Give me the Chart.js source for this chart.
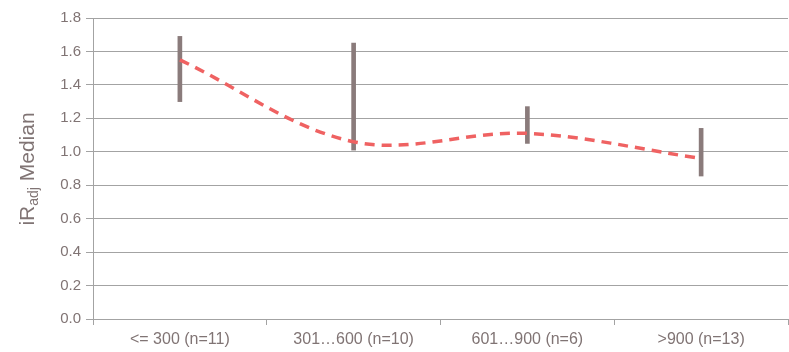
<!DOCTYPE html>
<html>
<head>
<meta charset="utf-8">
<script src="https://cdn.jsdelivr.net/npm/chart.js@4"></script>
<style>
  html, body { margin: 0; padding: 0; background: #fff; }
  #wrap { width: 789px; height: 352px; }
</style>
</head>
<body>
<div id="wrap"><canvas id="my-chart" width="789" height="352"></canvas></div>
<script>
'use strict';

let categories = ['<= 300 (n=11)', '301…600 (n=10)', '601…900 (n=6)', '>900 (n=13)'];
let medians = [1.55, 1.06, 1.11, 0.96];
let rangeLow = [1.30, 1.01, 1.05, 0.855];
let rangeHigh = [1.69, 1.65, 1.27, 1.14];
let yTicks = [0, 0.2, 0.4, 0.6, 0.8, 1.0, 1.2, 1.4, 1.6, 1.8];

let textColor = '#807474';
let gridColor = '#a3a3a3';

let ranges = [];
for (let i = 0; i < categories.length; i++) {
  ranges.push([rangeLow[i], rangeHigh[i]]);
}

// y title with subscript "adj"
let yTitlePlugin = {
  id: 'yTitle',
  afterDraw(chart) {
    let ctx = chart.ctx;
    ctx.save();
    ctx.translate(28, 169);
    ctx.rotate(-Math.PI / 2);
    ctx.fillStyle = textColor;
    ctx.textBaseline = 'middle';
    let big = '21px "Liberation Sans", Arial, sans-serif';
    let small = '14px "Liberation Sans", Arial, sans-serif';
    ctx.font = big;
    let w1 = ctx.measureText('iR').width;
    let w3 = ctx.measureText(' Median').width;
    ctx.font = small;
    let w2 = ctx.measureText('adj').width;
    let x = -(w1 + w2 + w3) / 2;
    ctx.font = big;
    ctx.fillText('iR', x, 0);
    ctx.font = small;
    ctx.fillText('adj', x + w1, 6);
    ctx.font = big;
    ctx.fillText(' Median', x + w1 + w2, 0);
    ctx.restore();
  }
};

let canvasElem = document.getElementById('my-chart');

new Chart(canvasElem, {
  type: 'bar',
  data: {
    labels: categories,
    datasets: [{
      type: 'line',
      data: medians,
      borderColor: '#ef6262',
      borderWidth: 3.5,
      borderDash: [10, 7],
      pointRadius: 0,
      tension: 0.35,
      fill: false,
      order: 0
    }, {
      type: 'bar',
      data: ranges,
      backgroundColor: '#8a7b7b',
      barThickness: 4,
      order: 1
    }]
  },
  options: {
    responsive: false,
    animation: false,
    layout: { padding: { top: 18, right: 1, left: 0, bottom: 0 } },
    plugins: {
      legend: { display: false },
      tooltip: { enabled: false }
    },
    scales: {
      x: {
        offset: true,
        grid: {
          offset: true,
          drawOnChartArea: false,
          color: gridColor,
          tickLength: 6
        },
        border: { color: gridColor },
        ticks: {
          color: textColor,
          padding: 5,
          font: { family: '"Liberation Sans", Arial, sans-serif', size: 16 }
        },
        afterFit(scale) { scale.height = 33; }
      },
      y: {
        min: 0,
        max: 1.8,
        afterBuildTicks(scale) {
          scale.ticks = yTicks.map(v => ({ value: v }));
        },
        grid: {
          color: gridColor,
          tickLength: 7
        },
        border: { color: gridColor },
        ticks: {
          color: textColor,
          padding: 5,
          font: { family: '"Liberation Sans", Arial, sans-serif', size: 15 },
          callback: v => v.toFixed(1)
        },
        afterFit(scale) { scale.width = 93; }
      }
    }
  },
  plugins: [yTitlePlugin]
});
</script>
</body>
</html>
